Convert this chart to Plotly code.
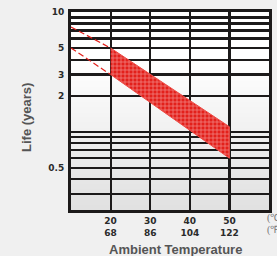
import plotly.graph_objects as go

# ---- data ----
temps_c = [20, 30, 40, 50]
temps_f = [68, 86, 104, 122]

band_temp = [20, 50]
life_upper = [5, 1.1]
life_lower = [3, 0.6]

dash_temp = [10, 20]
dash_upper = [7.5, 5]
dash_lower = [5, 3]

y_grid = [10, 9, 8, 7, 6, 5, 4, 3, 2, 1, 0.9, 0.8, 0.7, 0.6, 0.5, 0.4, 0.3]
y_label = {10: "10", 5: "5", 3: "3", 2: "2", 0.5: "0.5"}

x_range = [10, 60]
y_range_log = [-0.655, 1.0]

RED = "#e3201b"
GRID = "#1c1a1a"
BG = "#f0f0f0"

fig = go.Figure()

# band (hatched)
fig.add_trace(go.Scatter(
    x=band_temp + band_temp[::-1],
    y=life_upper + life_lower[::-1],
    mode="lines", fill="toself",
    line=dict(color="#ee4a44", width=1),
    fillcolor=RED,
    fillpattern=dict(shape="+", bgcolor=RED, fgcolor="white", size=4, solidity=0.3),
    hoverinfo="skip", showlegend=False,
))
# dashed extrapolations
for yy in (dash_upper, dash_lower):
    fig.add_trace(go.Scatter(
        x=dash_temp, y=yy, mode="lines",
        line=dict(color=RED, width=1.2, dash="6px,3px"),
        hoverinfo="skip", showlegend=False,
    ))

# background gradient inside plot (white at top to light grey at bottom)
n = 30
start = 0.78
for i in range(n + 1):
    top = start * (1 - i / n)
    t = i / n
    c = int(round(255 - t * (255 - 224)))
    fig.add_shape(type="rect", xref="x domain", yref="y domain",
                  x0=0, x1=1, y0=0, y1=top if i < n else 0.0001,
                  fillcolor=f"rgb({c},{c},{c})", line=dict(width=0), layer="below")

tick_font = dict(family="DejaVu Sans", size=9, color="#2a2a2a", weight="bold")

fig.update_xaxes(
    range=x_range, tickmode="array", tickvals=temps_c,
    ticktext=[f"{c}<br>{f}" for c, f in zip(temps_c, temps_f)],
    showgrid=True, gridcolor=GRID, gridwidth=2.2,
    showline=True, linecolor=GRID, linewidth=3, mirror=True,
    ticks="", tickfont=tick_font, zeroline=False,
)
fig.update_yaxes(
    type="log", range=y_range_log, tickmode="array", tickvals=y_grid,
    ticktext=[y_label.get(v, "") for v in y_grid],
    showgrid=True, gridcolor=GRID, gridwidth=2.2,
    showline=True, linecolor=GRID, linewidth=3, mirror=True,
    ticks="", tickfont=tick_font, zeroline=False, ticklabelstandoff=2,
)

title_font = dict(family="Liberation Sans", size=13, color="#555555", weight="bold")
fig.add_annotation(text="Life (years)", xref="paper", yref="paper",
                   x=-0.27, y=0.465, showarrow=False, textangle=-90, font=title_font)
fig.add_annotation(text="Ambient Temperature", xref="paper", yref="paper",
                   x=0.53, y=-0.2, yanchor="middle", showarrow=False, font=title_font)
unit_font = dict(family="Liberation Serif", size=10, color="#777777")
fig.add_annotation(text="(℃)", xref="x", yref="paper", x=59.0, y=-0.04,
                   xanchor="left", yanchor="middle", showarrow=False, font=unit_font)
fig.add_annotation(text="(℉)", xref="x", yref="paper", x=59.0, y=-0.1,
                   xanchor="left", yanchor="middle", showarrow=False, font=unit_font)

fig.update_layout(
    width=277, height=256,
    margin=dict(l=71, r=8, t=12, b=46, autoexpand=False),
    paper_bgcolor=BG, plot_bgcolor="white",
    showlegend=False,
)

fig.write_html(
    "out.html",
    config={"displayModeBar": False, "staticPlot": True},
    post_script="document.body.style.margin='0';document.body.style.background='#f0f0f0';",
)
